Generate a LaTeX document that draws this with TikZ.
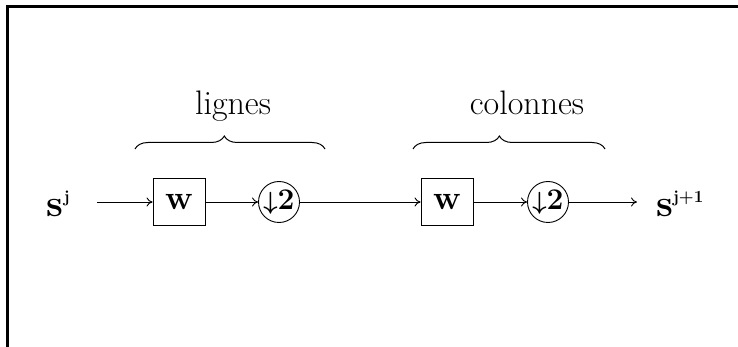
\documentclass[tikz,border=0pt]{standalone}
\usepackage{amsmath}
\usetikzlibrary{decorations.pathreplacing,arrows.meta}
\begin{document}
\begin{tikzpicture}[x=1pt,y=-1pt,
  bigtext/.style={font=\fontsize{34}{38}\selectfont, inner sep=0pt},
  sigtext/.style={font=\fontsize{38}{42}\selectfont\bfseries, inner sep=0pt},
  blockbox/.style={draw, line width=0.9pt, minimum width=52pt, minimum height=47pt, inner sep=0pt,
                   font=\fontsize{34}{38}\selectfont\bfseries},
  decim/.style={draw, circle, line width=0.9pt, minimum size=41pt, inner sep=0pt,
                font=\fontsize{30}{34}\selectfont\bfseries\boldmath},
  flow/.style={-{To[length=6pt,width=9pt]}, line width=0.9pt},
  grp/.style={decorate, line width=1pt, decoration={brace, amplitude=13pt}}]
\useasboundingbox (0,0) rectangle (738,347);
% frame
\draw[line width=3pt] (7,347) -- (7,7) -- (738,7);

% signals
\node[sigtext, anchor=east] (sin) at (64,204) {s\rlap{\raisebox{0.85ex}{\fontsize{17}{19}\selectfont j}}};
\node[sigtext, anchor=west] (sout) at (656,204) {s\rlap{\raisebox{0.85ex}{\fontsize{17}{19}\selectfont j+1}}};

% row stage
\node[blockbox] (w1) at (179,202) {w};
\node[decim] (d1) at (279,202) {$\downarrow$2};
% column stage
\node[blockbox] (w2) at (447,202) {w};
\node[decim] (d2) at (548,202) {$\downarrow$2};

\draw[flow, shorten <=33pt] (sin.east |- w1.west) -- (w1.west);
\draw[flow] (w1.east) -- (d1.west);
\draw[flow] (d1.east) -- (w2.west);
\draw[flow] (w2.east) -- (d2.west);
\draw[flow] (d2.east) -- ([xshift=-19pt]sout.west |- d2.east);

% group braces and labels
\draw[grp, decoration={aspect=0.47}] (135,149) -- (325,149);
\draw[grp, decoration={aspect=0.45}] (413,149) -- (605,149);
\node[bigtext, anchor=base] (lig) at (233,115) {lignes};
\node[bigtext, anchor=base] (col) at (527,115) {colonnes};
\end{tikzpicture}
\end{document}
